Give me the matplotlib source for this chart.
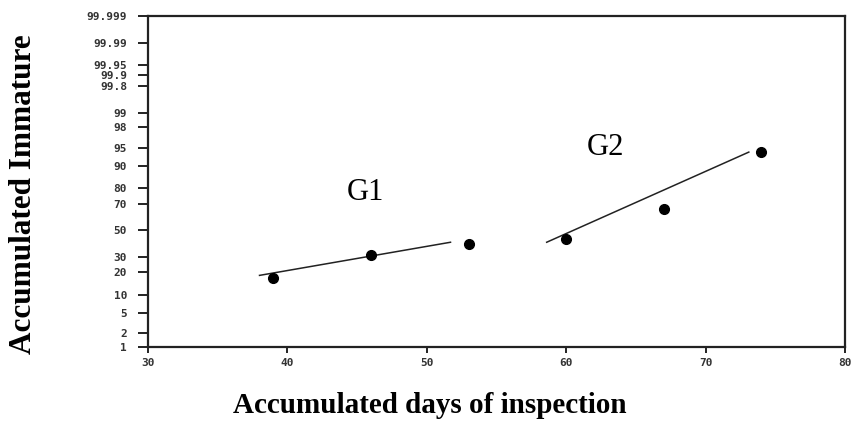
import numpy as np
import matplotlib
matplotlib.use("Agg")
import matplotlib.pyplot as plt
from statistics import NormalDist

# observed points (day, accumulated %)
g1_days = [39, 46, 53]
g1_pct = [17, 31, 39]
g2_days = [60, 67, 74]
g2_pct = [43, 66, 94]

# fitted lines as drawn (end points)
g1_fit_days = [38, 51.7]
g1_fit_pct = [18.4, 40.5]
g2_fit_days = [58.6, 73.1]
g2_fit_pct = [40.5, 94]

x_ticks = [30, 40, 50, 60, 70, 80]
y_ticks = [1, 2, 5, 10, 20, 30, 50, 70, 80, 90, 95, 98, 99, 99.8, 99.9, 99.95, 99.99, 99.999]
y_labels = ["1", "2", "5", "10", "20", "30", "50", "70", "80", "90", "95", "98", "99",
            "99.8", "99.9", "99.95", "99.99", "99.999"]

nd = NormalDist()
_ppf = np.vectorize(lambda p: nd.inv_cdf(min(max(p / 100.0, 1e-9), 1 - 1e-9)), otypes=[float])
_cdf = np.vectorize(lambda z: nd.cdf(z) * 100.0, otypes=[float])


def forward(p):
    return _ppf(np.asarray(p, dtype=float))


def inverse(z):
    return _cdf(np.asarray(z, dtype=float))


fig = plt.figure(figsize=(8.54, 4.44), dpi=100)
ax = fig.add_axes([148 / 854, 97 / 444, 697 / 854, 331 / 444])
ax.set_yscale("function", functions=(forward, inverse))

ax.plot(g1_fit_days, g1_fit_pct, color="#222222", lw=1.1)
ax.plot(g2_fit_days, g2_fit_pct, color="#222222", lw=1.1)
ax.plot(g1_days, g1_pct, "o", color="black", ms=7)
ax.plot(g2_days, g2_pct, "o", color="black", ms=7)

ax.set_xlim(30, 80)
ax.set_ylim(1, 99.999)
ax.set_xticks(x_ticks)
ax.set_yticks(y_ticks)
ax.set_yticklabels(y_labels)
ax.minorticks_off()

for s in ax.spines.values():
    s.set_linewidth(1.6)
    s.set_color("#222222")
ax.tick_params(axis="y", direction="out", length=7, width=1.4, pad=8, labelsize=8,
               labelcolor="#333333", color="#222222")
ax.tick_params(axis="x", direction="out", length=4, width=1.4, pad=4, labelsize=8,
               labelcolor="#333333", color="#222222")
for lab in ax.get_xticklabels() + ax.get_yticklabels():
    lab.set_family("DejaVu Sans Mono")
    lab.set_fontweight("bold")

ax.text(45.6, 77.6, "G1", family="Liberation Serif", fontsize=22, ha="center", va="center")
ax.text(62.8, 95, "G2", family="Liberation Serif", fontsize=22, ha="center", va="center")

fig.text(430 / 854, 1 - 405 / 444, "Accumulated days of inspection", family="Liberation Serif",
         fontweight="bold", fontsize=21, ha="center", va="center")
fig.text(24 / 854, 1 - 194 / 444, "Accumulated Immature", family="Liberation Serif",
         fontweight="bold", fontsize=22.5, ha="center", va="center", rotation=90)

fig.savefig("out.png", dpi=100)
